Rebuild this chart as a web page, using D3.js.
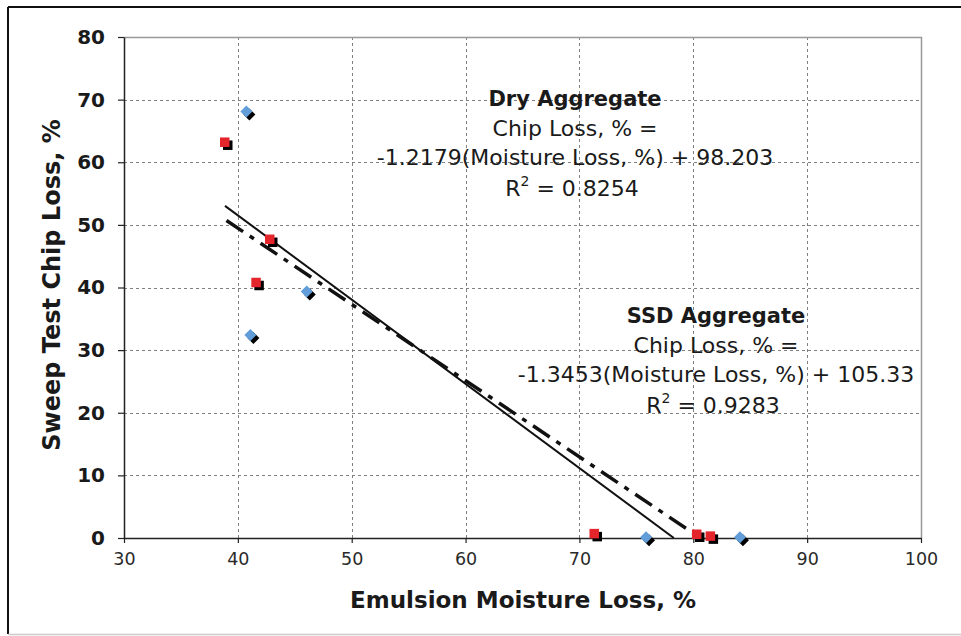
<!DOCTYPE html>
<html>
<head>
<meta charset="utf-8">
<script src="https://cdn.jsdelivr.net/npm/d3@7"></script>
<style>
  html, body { margin: 0; padding: 0; background: #fff; }
  svg { display: block; }
</style>
</head>
<body>
<svg id="chart" width="961" height="636"></svg>
<script>
// Sweep test results: chip loss vs. emulsion moisture loss
const dryX = [38.85, 42.8, 41.6, 71.3, 80.3, 81.5];
const dryY = [63.2, 47.7, 40.8, 0.7, 0.6, 0.3];
const ssdX = [40.75, 41.1, 46.05, 75.85, 84.1];
const ssdY = [68.1, 32.4, 39.35, 0.1, 0.1];

// Linear fits (slope, intercept, R²) and the x where each fit line starts
const fitNames = ["Dry Aggregate", "SSD Aggregate"];
const fitSlope = [-1.2179, -1.3453];
const fitIntercept = [98.203, 105.33];
const fitR2 = ["0.8254", "0.9283"];
const fitStartX = [39.0, 38.87];
const fitEndX = [81.5, 84.1];

const xTicks = [30, 40, 50, 60, 70, 80, 90, 100];
const yTicks = [0, 10, 20, 30, 40, 50, 60, 70, 80];

const svg = d3.select("#chart");
const W = 961, H = 636;
const m = { left: 124, right: 921, top: 37, bottom: 538 };

const x = d3.scaleLinear().domain([30, 100]).range([m.left, m.right]);
const y = d3.scaleLinear().domain([0, 80]).range([m.bottom, m.top]);

// outer frame
svg.append("line").attr("x1", 8).attr("x2", 8).attr("y1", 7).attr("y2", 634)
  .attr("stroke", "#111").attr("stroke-width", 2);
svg.append("line").attr("x1", 8).attr("x2", W).attr("y1", 7).attr("y2", 7)
  .attr("stroke", "#111").attr("stroke-width", 2);
svg.append("line").attr("x1", 8).attr("x2", W).attr("y1", 634.5).attr("y2", 634.5)
  .attr("stroke", "#ccc").attr("stroke-width", 1.5);

// dashed grid
const grid = svg.append("g").attr("stroke", "#808080").attr("stroke-width", 1)
  .attr("stroke-dasharray", "3,3");
grid.selectAll("line.v").data(xTicks.filter(d => d > 30 && d < 100)).join("line")
  .attr("class", "v")
  .attr("x1", d => Math.round(x(d)) + 0.5).attr("x2", d => Math.round(x(d)) + 0.5)
  .attr("y1", m.top).attr("y2", m.bottom);
grid.selectAll("line.h").data(yTicks.filter(d => d > 0 && d < 80)).join("line")
  .attr("class", "h")
  .attr("y1", d => Math.round(y(d)) + 0.5).attr("y2", d => Math.round(y(d)) + 0.5)
  .attr("x1", m.left).attr("x2", m.right);

// plot-area border (top and right)
svg.append("path")
  .attr("d", `M${m.left},${m.top + 0.5}H${m.right + 0.5}V${m.bottom}`)
  .attr("fill", "none").attr("stroke", "#999").attr("stroke-width", 1.5);

// axes
const xAxis = d3.axisBottom(x).tickValues(xTicks).tickSize(5).tickSizeOuter(0).tickPadding(10);
const gx = svg.append("g").attr("transform", `translate(0,${m.bottom})`).call(xAxis);
gx.select(".domain").attr("stroke", "#222").attr("stroke-width", 1.5);
gx.selectAll(".tick line").attr("stroke", "#222").attr("stroke-width", 1.2);
gx.selectAll(".tick text")
  .attr("font-family", "'DejaVu Sans', Verdana, sans-serif")
  .attr("font-size", 17.5).attr("fill", "#2a2a2a");

const yAxis = d3.axisLeft(y).tickValues(yTicks).tickSize(6).tickSizeOuter(0).tickPadding(13);
const gy = svg.append("g").attr("transform", `translate(${m.left},0)`).call(yAxis);
gy.select(".domain").attr("stroke", "#222").attr("stroke-width", 1.5);
gy.selectAll(".tick line").attr("stroke", "#222").attr("stroke-width", 1.2);
gy.selectAll(".tick text")
  .attr("font-family", "'DejaVu Sans', Verdana, sans-serif")
  .attr("font-weight", "bold").attr("font-size", 20).attr("fill", "#1a1a1a");

// axis titles
svg.append("text")
  .attr("x", 523).attr("y", 608)
  .attr("text-anchor", "middle")
  .attr("font-family", "'DejaVu Sans', Verdana, sans-serif")
  .attr("font-weight", "bold").attr("font-size", 23).attr("fill", "#1a1a1a")
  .text("Emulsion Moisture Loss, %");
svg.append("text")
  .attr("transform", `translate(60,285) rotate(-90)`)
  .attr("text-anchor", "middle")
  .attr("font-family", "'DejaVu Sans', Verdana, sans-serif")
  .attr("font-weight", "bold").attr("font-size", 24).attr("fill", "#1a1a1a")
  .text("Sweep Test Chip Loss, %");

// fit lines, clipped at zero chip loss
svg.append("clipPath").attr("id", "plotClip").append("rect")
  .attr("x", m.left).attr("y", m.top).attr("width", m.right - m.left).attr("height", m.bottom - m.top);
const fitLine = d3.line().x(d => x(d[0])).y(d => y(d[1]));
const fits = fitNames.map((name, i) => {
  const x0 = fitStartX[i];
  const xz = Math.min(fitEndX[i], -fitIntercept[i] / fitSlope[i]);
  return [[x0, fitSlope[i] * x0 + fitIntercept[i]], [xz, fitSlope[i] * xz + fitIntercept[i]]];
});
const fitG = svg.append("g").attr("clip-path", "url(#plotClip)");
fitG.append("path").datum(fits[1]).attr("d", fitLine)
  .attr("fill", "none").attr("stroke", "#111").attr("stroke-width", 2);
fitG.append("path").datum(fits[0]).attr("d", fitLine)
  .attr("fill", "none").attr("stroke", "#111").attr("stroke-width", 3.5)
  .attr("stroke-dasharray", "20,8,5,8");

// markers with drop shadows
const dry = dryX.map((v, i) => [v, dryY[i]]);
const ssd = ssdX.map((v, i) => [v, ssdY[i]]);
const sq = 9.5, sh = 3;
const mk = svg.append("g");
mk.selectAll("rect.sh").data(dry).join("rect").attr("class", "sh")
  .attr("x", d => x(d[0]) - sq / 2 + sh).attr("y", d => y(d[1]) - sq / 2 + sh)
  .attr("width", sq).attr("height", sq).attr("fill", "#000");
mk.selectAll("rect.m").data(dry).join("rect").attr("class", "m")
  .attr("x", d => x(d[0]) - sq / 2).attr("y", d => y(d[1]) - sq / 2)
  .attr("width", sq).attr("height", sq).attr("fill", "#e4262c");
const dia = "M0,-6L6,0L0,6L-6,0Z";
mk.selectAll("path.sh").data(ssd).join("path").attr("class", "sh")
  .attr("d", dia).attr("transform", d => `translate(${x(d[0]) + sh},${y(d[1]) + sh})`)
  .attr("fill", "#000");
mk.selectAll("path.m").data(ssd).join("path").attr("class", "m")
  .attr("d", dia).attr("transform", d => `translate(${x(d[0])},${y(d[1])})`)
  .attr("fill", "#619dd8");

// fit annotations
const notePos = [[575, 106], [716, 323]];
const noteG = svg.append("g")
  .attr("font-family", "'DejaVu Sans', Verdana, sans-serif")
  .attr("fill", "#1a1a1a").attr("text-anchor", "middle");
fitNames.forEach((name, i) => {
  const [cx, cy] = notePos[i];
  noteG.append("text").attr("x", cx).attr("y", cy)
    .attr("font-weight", "bold").attr("font-size", 21).text(name);
  noteG.append("text").attr("x", cx).attr("y", cy + 29.5)
    .attr("font-size", 22).text("Chip Loss, % =");
  noteG.append("text").attr("x", cx).attr("y", cy + 59)
    .attr("font-size", 22)
    .text(`${fitSlope[i].toFixed(4)}(Moisture Loss, %) + ${fitIntercept[i]}`);
  const r = noteG.append("text").attr("x", cx - 3).attr("y", cy + 89.5).attr("font-size", 22);
  r.append("tspan").text("R");
  r.append("tspan").attr("font-size", 14).attr("dy", -10).text("2");
  r.append("tspan").attr("dy", 10).text(` = ${fitR2[i]}`);
});
</script>
</body>
</html>
